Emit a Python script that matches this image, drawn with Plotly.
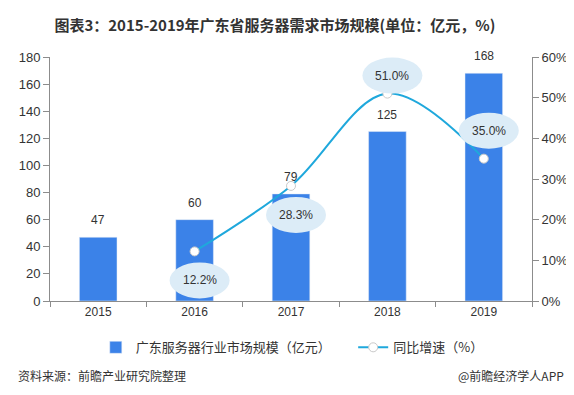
import plotly.graph_objects as go

years = ["2015", "2016", "2017", "2018", "2019"]
market_size = [47, 60, 79, 125, 168]
growth = [None, 12.2, 28.3, 51.0, 35.0]
growth_labels = ["", "12.2%", "28.3%", "51.0%", "35.0%"]
label_side = [None, "below", "below", "above", "above"]

bar_name = "广东服务器行业市场规模（亿元）"
line_name = "同比增速（%）"
title_text = "<b>图表3：2015-2019年广东省服务器需求市场规模(单位：亿元，%)</b>"
source_text = "资料来源：前瞻产业研究院整理"
brand_text = "@前瞻经济学人APP"

BAR_COLOR = "#3b82e8"
LINE_COLOR = "#1fa8dc"
BUBBLE = "#dcecf7"
TXT = "#333333"
AXIS = "#8c8c8c"
FONT = "Liberation Sans, Arial, Noto Sans CJK SC, sans-serif"
CJK = "Noto Sans CJK SC, sans-serif"

fig = go.Figure()
fig.add_trace(go.Bar(
    x=years, y=market_size, name=bar_name, marker_color=BAR_COLOR,
    width=0.39, yaxis="y", legend="legend",
))
fig.add_trace(go.Scatter(
    x=years, y=growth, name=line_name, mode="lines+markers", yaxis="y2",
    line=dict(color=LINE_COLOR, width=2, shape="spline", smoothing=1.0),
    marker=dict(color="white", size=9, line=dict(color="#c9c9c9", width=1)),
    connectgaps=False, legend="legend2",
))

annotations = []
shapes = []
for i, v in enumerate(market_size):
    annotations.append(dict(x=i, y=v, xref="x", yref="y", text=str(v),
                            showarrow=False, yanchor="middle", yshift=17,
                            font=dict(family=FONT, size=12, color=TXT)))
for i, (g, lab, side) in enumerate(zip(growth, growth_labels, label_side)):
    if g is None:
        continue
    dy = -29 if side == "below" else (18 if i == 3 else 28)
    dx = 5
    shapes.append(dict(type="circle", xref="x", yref="y2",
                       xsizemode="pixel", ysizemode="pixel",
                       xanchor=i, yanchor=g,
                       x0=dx - 30, x1=dx + 30, y0=dy - 18, y1=dy + 18,
                       fillcolor=BUBBLE, line=dict(width=0), layer="above"))
    annotations.append(dict(x=i, y=g, xref="x", yref="y2", text=lab,
                            showarrow=False, xshift=dx, yshift=dy,
                            font=dict(family=FONT, size=12, color=TXT)))

annotations.append(dict(x=-0.07, y=-0.348, xref="paper", yref="paper",
                        text=source_text, showarrow=False, xanchor="left",
                        font=dict(family=CJK, size=12, color=TXT)))
annotations.append(dict(x=1.07, y=-0.348, xref="paper", yref="paper",
                        text=brand_text, showarrow=False, xanchor="right",
                        font=dict(family=CJK, size=12, color=TXT)))

legend_style = dict(orientation="h", y=-0.19, yanchor="middle",
                    xanchor="left", bgcolor="rgba(0,0,0,0)",
                    font=dict(family=CJK, size=13, color=TXT), itemwidth=30)

fig.update_layout(
    width=574, height=395,
    margin=dict(l=42, r=50, t=49, b=102),
    paper_bgcolor="white", plot_bgcolor="white",
    title=dict(text=title_text, x=0.465, xanchor="center", y=0.954,
               yanchor="middle", font=dict(family=CJK, size=15, color=TXT)),
    xaxis=dict(type="category", range=[-0.5, 4.5], autorange=False,
               showline=True, linecolor=AXIS, linewidth=1,
               ticks="outside", ticklen=5, tickcolor=AXIS,
               tickson="boundaries", showgrid=False, tickangle=0,
               tickfont=dict(family=FONT, size=12, color=TXT)),
    yaxis=dict(range=[0, 180], dtick=20, showline=True, linecolor=AXIS,
               ticks="outside", ticklen=6, tickcolor=AXIS, showgrid=False,
               zeroline=False,
               tickfont=dict(family=FONT, size=13, color=TXT)),
    yaxis2=dict(range=[0, 60], dtick=10, overlaying="y", side="right",
                ticksuffix="%", showline=True, linecolor=AXIS,
                ticks="outside", ticklen=6, tickcolor=AXIS, showgrid=False,
                zeroline=False,
                tickfont=dict(family=FONT, size=13, color=TXT)),
    legend=dict(x=0.095, **legend_style),
    legend2=dict(x=0.629, **legend_style),
    showlegend=True,
    annotations=annotations, shapes=shapes,
)

fig.write_html("out.html")
